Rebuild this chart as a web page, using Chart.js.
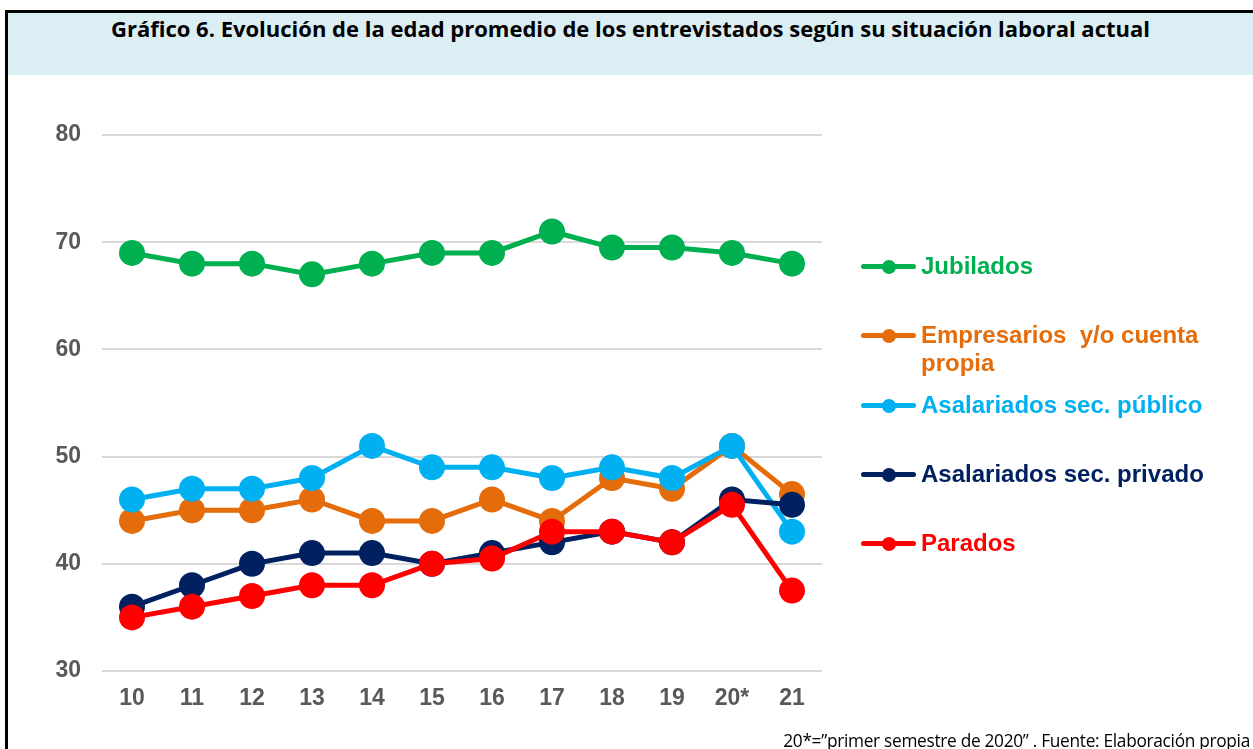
<!DOCTYPE html>
<html>
<head>
<meta charset="utf-8">
<script src="https://cdn.jsdelivr.net/npm/chart.js@4.4.0/dist/chart.umd.min.js"></script>
<style>
  html, body { margin: 0; padding: 0; background: #fff; }
  #page { position: relative; width: 1253px; height: 749px; overflow: hidden; }
  #frame { position: absolute; left: 5px; top: 10px; right: -10px; bottom: -10px;
           border-left: 3px solid #000; border-top: 3px solid #000; }
  #band { position: absolute; left: 8px; top: 13px; width: 1245px; height: 62px; background: #DAEEF3; }
  #title { position: absolute; left: 8px; top: 13px; width: 1245px; text-align: center;
           font-family: "Open Sans", sans-serif; font-weight: bold; font-size: 22px; color: #000; }
  #chartBox { position: absolute; left: 0; top: 0; width: 1253px; height: 749px; }
  #legend { position: absolute; left: 861px; top: 0; width: 392px; }
  .item { position: absolute; left: 0; }
  .swatch { position: absolute; left: 0; top: 12px; width: 55px; height: 5px; border-radius: 3px; }
  .swatch i { position: absolute; left: 21px; top: -4px; width: 14px; height: 14px; border-radius: 50%; }
  .lbl { position: absolute; left: 60px; top: 0; width: 300px; white-space: pre-wrap;
         font-family: "Liberation Sans", Arial, sans-serif; font-weight: bold; font-size: 24px; line-height: 28px; }
  #note { position: absolute; right: 3px; top: 729px; font-family: "Open Sans", sans-serif;
          font-size: 17.3px; color: #000; letter-spacing: -0.3px; }
</style>
</head>
<body>
<div id="page">
  <div id="frame"></div>
  <div id="band"></div>
  <div id="title">Gráfico 6. Evolución de la edad promedio de los entrevistados según su situación laboral actual</div>
  <div id="chartBox"><canvas id="chart"></canvas></div>
  <div id="legend"></div>
  <div id="note">20*=”primer semestre de 2020” . Fuente: Elaboración propia</div>
</div>
<script>
const years = ['10', '11', '12', '13', '14', '15', '16', '17', '18', '19', '20*', '21'];

const jubilados   = [69, 68, 68, 67, 68, 69, 69, 71, 69.5, 69.5, 69, 68];
const empresarios = [44, 45, 45, 46, 44, 44, 46, 44, 48, 47, 51, 46.5];
const publico     = [46, 47, 47, 48, 51, 49, 49, 48, 49, 48, 51, 43];
const privado     = [36, 38, 40, 41, 41, 40, 41, 42, 43, 42, 46, 45.5];
const parados     = [35, 36, 37, 38, 38, 40, 40.5, 43, 43, 42, 45.5, 37.5];

const seriesNames = ['Jubilados', 'Empresarios  y/o cuenta propia', 'Asalariados sec. público',
                     'Asalariados sec. privado', 'Parados'];
const seriesColors = ['#00B050', '#E46C0A', '#00B0F0', '#002060', '#FF0000'];
const seriesData = [jubilados, empresarios, publico, privado, parados];

const datasets = seriesData.map((d, i) => ({
  label: seriesNames[i],
  data: d,
  borderColor: seriesColors[i],
  backgroundColor: seriesColors[i],
  borderWidth: 5,
  pointRadius: 13,
  pointHoverRadius: 13,
  pointBorderWidth: 0,
  fill: false,
  order: seriesData.length - i   // later series drawn on top
}));

const tickFont = { family: 'Liberation Sans', weight: 'bold', size: 23 };

const ctx = document.getElementById('chart').getContext('2d');
const chart = new Chart(ctx, {
  type: 'line',
  data: { labels: years, datasets: datasets },
  options: {
    responsive: true,
    maintainAspectRatio: false,
    animation: false,
    layout: { padding: { left: 0, right: 431, top: 135, bottom: 0 } },
    plugins: { legend: { display: false }, tooltip: { enabled: false } },
    scales: {
      x: {
        offset: true,
        grid: { display: false, drawTicks: false },
        border: { display: false },
        ticks: { color: '#595959', padding: 14, font: tickFont },
        afterFit: s => { s.height = 78; }
      },
      y: {
        min: 30, max: 80,
        ticks: { stepSize: 10, color: '#595959', padding: 21, font: tickFont },
        grid: { color: '#D9D9D9', lineWidth: 2, drawTicks: false },
        border: { display: false },
        afterFit: s => { s.width = 102; }
      }
    }
  }
});

// legend built from the chart's datasets
const legendEl = document.getElementById('legend');
chart.data.datasets.forEach((ds, i) => {
  const item = document.createElement('div');
  item.className = 'item';
  item.style.top = (252 + i * 69.3) + 'px';
  item.innerHTML = '<div class="swatch" style="background:' + ds.borderColor + '"><i style="background:' +
    ds.borderColor + '"></i></div><div class="lbl" style="color:' + ds.borderColor + '">' + ds.label + '</div>';
  legendEl.appendChild(item);
});
</script>
</body>
</html>
